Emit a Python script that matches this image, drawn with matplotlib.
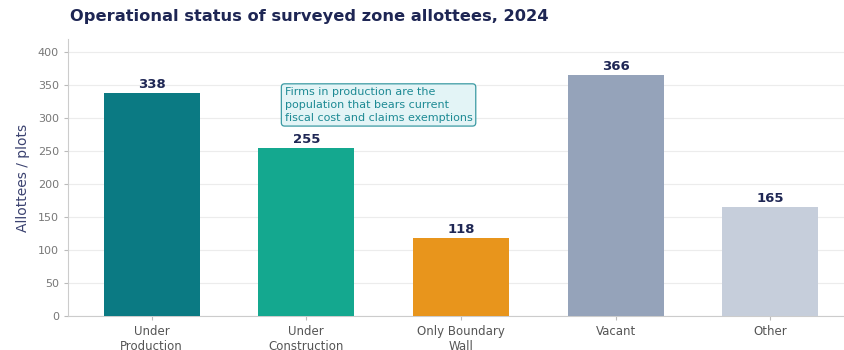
import matplotlib.pyplot as plt

# Data
categories = ['Under\nProduction', 'Under\nConstruction', 'Only Boundary\nWall', 'Vacant', 'Other']
counts = [338, 255, 118, 366, 165]
bar_colors = ['#0b7a83', '#14a88f', '#e8951c', '#95a3ba', '#c6cedb']

navy = '#1e2654'

fig = plt.figure(figsize=(8.44, 3.5), dpi=100)
ax = fig.add_axes([68 / 844, 34 / 350, 786 / 844, 277 / 350])

x = range(len(categories))
bars = ax.bar(x, counts, width=0.62, color=bar_colors, zorder=3)

# value labels on top of each bar
for bar in bars:
    h = bar.get_height()
    ax.text(bar.get_x() + bar.get_width() / 2, h + 3, f'{h:.0f}',
            ha='center', va='bottom', fontsize=9.5, fontweight='bold', color=navy)

ax.set_ylim(0, 420)
ax.set_yticks(range(0, 401, 50))
ax.set_xticks(list(x))
ax.set_xticklabels(categories, fontsize=8.5, color='#555555')
ax.tick_params(axis='y', labelsize=8, colors='#777777', length=3, color='#bbbbbb')
ax.tick_params(axis='x', length=3, color='#bbbbbb')
ax.set_ylabel('Allottees / plots', fontsize=10, color='#3b4270', labelpad=6)

ax.grid(axis='y', color='#ececec', linewidth=0.8, zorder=0)
for side in ['top', 'right']:
    ax.spines[side].set_visible(False)
for side in ['left', 'bottom']:
    ax.spines[side].set_color('#cccccc')

ax.text(0.86, 347, 'Firms in production are the\npopulation that bears current\nfiscal cost and claims exemptions',
        fontsize=8, color='#1d8a94', va='top', ha='left', linespacing=1.35,
        bbox=dict(boxstyle='round,pad=0.3', facecolor='#e3f4f6', edgecolor='#3b9aa3', linewidth=0.9),
        zorder=5)

fig.text(70 / 844, 1 - 17 / 350, 'Operational status of surveyed zone allottees, 2024',
         fontsize=11.7, fontweight='bold', color=navy, va='center', ha='left')

fig.savefig('out.png', dpi=100)
